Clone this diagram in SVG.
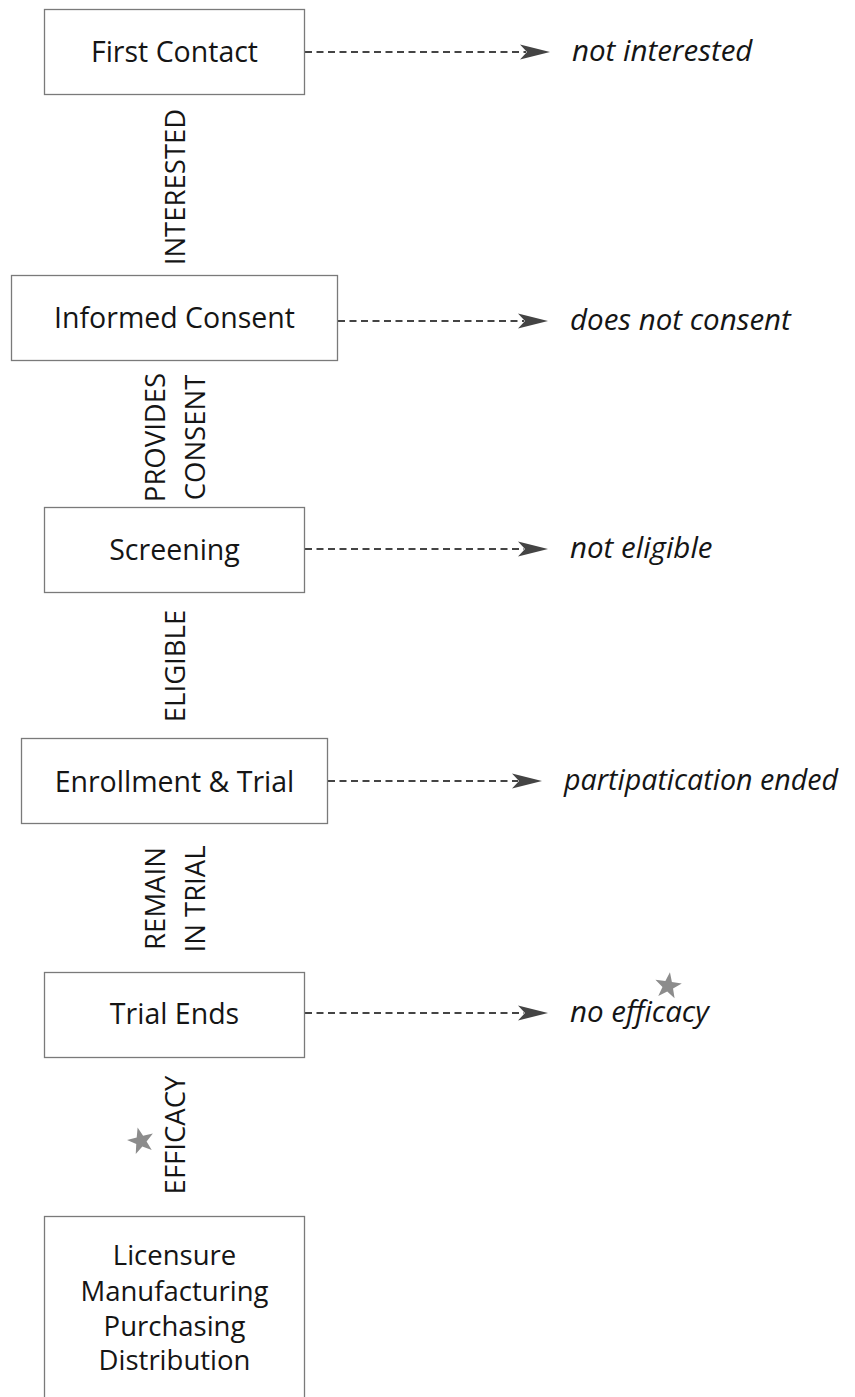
<svg xmlns="http://www.w3.org/2000/svg" width="855" height="1397" viewBox="0 0 855 1397">
<defs>
<style>
.box{fill:#fff;stroke:#7a7a7a;stroke-width:1.3}
.t{font-family:"Open Sans","Liberation Sans",sans-serif;font-size:28.5px;fill:#151515;text-anchor:middle}
.l{font-family:"Open Sans","Liberation Sans",sans-serif;font-size:27.5px;fill:#151515;text-anchor:middle}
.v{font-family:"Open Sans","Liberation Sans",sans-serif;font-size:27.5px;fill:#151515;text-anchor:middle}
.o{font-family:"Open Sans","Liberation Sans",sans-serif;font-size:29.5px;font-style:italic;fill:#151515}
.d{stroke:#444;stroke-width:2;stroke-dasharray:7 4.5;fill:none}
.ah{fill:#444}
.star{fill:#8c8c8c}
</style>
<path id="star" d="M0,-14 L3.29,-4.53 L13.31,-4.33 L5.33,1.73 L8.23,11.33 L0,5.6 L-8.23,11.33 L-5.33,1.73 L-13.31,-4.33 L-3.29,-4.53 Z"/>
</defs>
<rect width="855" height="1397" fill="#fff"/>
<g id="connectors">
<line class="d" x1="305" y1="52" x2="526" y2="52"/>
<polygon class="ah" points="550,52 520,44.5 527,52 520,59.5"/>
<line class="d" x1="338" y1="321" x2="524" y2="321"/>
<polygon class="ah" points="548,321 518,313.5 525,321 518,328.5"/>
<line class="d" x1="305" y1="549" x2="524" y2="549"/>
<polygon class="ah" points="548,549 518,541.5 525,549 518,556.5"/>
<line class="d" x1="328" y1="781" x2="518" y2="781"/>
<polygon class="ah" points="542,781 512,773.5 519,781 512,788.5"/>
<line class="d" x1="305" y1="1013" x2="524" y2="1013"/>
<polygon class="ah" points="548,1013 518,1005.5 525,1013 518,1020.5"/>
<text class="v" transform="translate(185,187) rotate(-90)">INTERESTED</text>
<text class="v" transform="translate(165,437.5) rotate(-90)">PROVIDES</text>
<text class="v" transform="translate(205,437.5) rotate(-90)">CONSENT</text>
<text class="v" transform="translate(185,666) rotate(-90)">ELIGIBLE</text>
<text class="v" transform="translate(165,898.5) rotate(-90)">REMAIN</text>
<text class="v" transform="translate(205,899) rotate(-90)">IN TRIAL</text>
<text class="v" transform="translate(185,1135) rotate(-90)">EFFICACY</text>
<use href="#star" class="star" transform="translate(141,1141) rotate(-14)"/>
</g>
<g id="first-contact">
<rect class="box" x="44.5" y="9.5" width="260" height="85"/>
<text class="t" x="174.5" y="62">First Contact</text>
</g>
<g id="informed-consent">
<rect class="box" x="11.5" y="275.5" width="326" height="85"/>
<text class="t" x="174.5" y="328">Informed Consent</text>
</g>
<g id="screening">
<rect class="box" x="44.5" y="507.5" width="260" height="85"/>
<text class="t" x="174.5" y="560">Screening</text>
</g>
<g id="enrollment">
<rect class="box" x="21.5" y="738.5" width="306" height="85"/>
<text class="t" x="174.5" y="792">Enrollment &amp; Trial</text>
</g>
<g id="trial-ends">
<rect class="box" x="44.5" y="972.5" width="260" height="85"/>
<text class="t" x="174.5" y="1024">Trial Ends</text>
</g>
<g id="licensure">
<rect class="box" x="44.5" y="1216.5" width="260" height="200"/>
<text class="l" x="174.5" y="1265">Licensure</text>
<text class="l" x="174.5" y="1301">Manufacturing</text>
<text class="l" x="174.5" y="1336">Purchasing</text>
<text class="l" x="174.5" y="1370">Distribution</text>
</g>
<g id="not-interested"><text class="o" x="572" y="61">not interested</text></g>
<g id="does-not-consent"><text class="o" x="570" y="330">does not consent</text></g>
<g id="not-eligible"><text class="o" x="570" y="558">not eligible</text></g>
<g id="participation-ended"><text class="o" x="564" y="790" textLength="274" lengthAdjust="spacingAndGlyphs">partipatication ended</text></g>
<g id="no-efficacy">
<text class="o" x="570" y="1022">no efficacy</text>
<use href="#star" class="star" transform="translate(668,986) rotate(8)"/>
</g>
</svg>
